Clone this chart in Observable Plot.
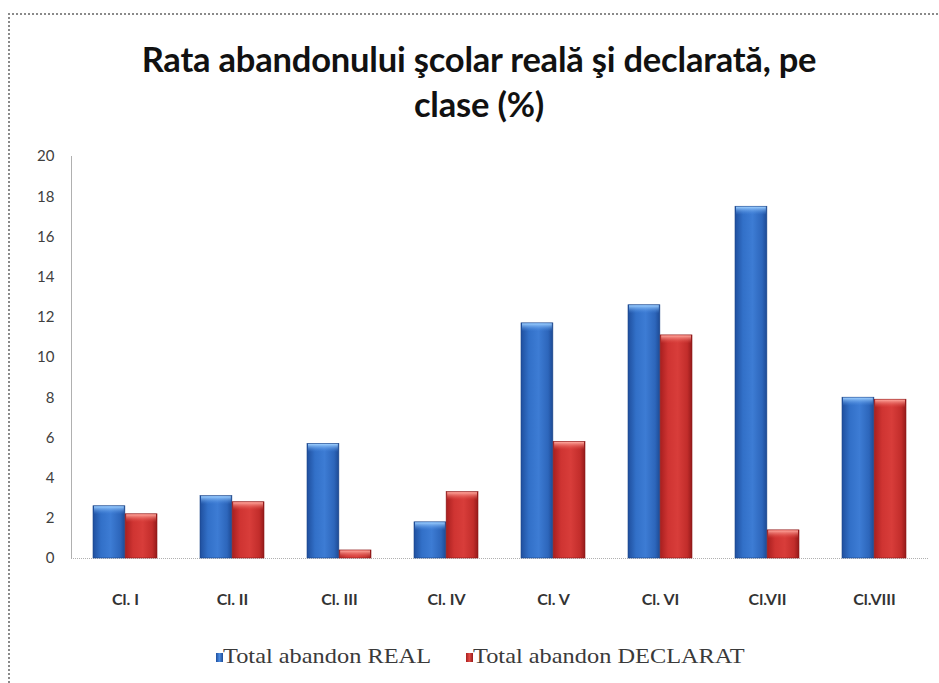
<!DOCTYPE html>
<html>
<head>
<meta charset="utf-8">
<script src="https://cdn.jsdelivr.net/npm/d3@7"></script>
<script src="https://cdn.jsdelivr.net/npm/@observablehq/plot@0.6"></script>
<style>
  html, body { margin: 0; padding: 0; background: #fff; }
  #wrap { position: relative; width: 939px; height: 683px; overflow: hidden; background: #fff; }
  #border { position: absolute; left: 8px; top: 13px; width: 1000px; height: 1000px;
            border-left: 2px dotted #8a8a8a; border-top: 2px dotted #8a8a8a; }
  #title { position: absolute; left: 0; top: 36px; width: 958px; text-align: center;
           font-family: Lato, "Open Sans", sans-serif; font-weight: bold; font-size: 34.5px;
           line-height: 45px; color: #111; letter-spacing: -0.2px; }
  #chart { position: absolute; left: 0; top: 130px; }
  #legend { position: absolute; top: 644px; left: 0; width: 939px; height: 26px;
            font-family: "Liberation Serif", "Times New Roman", serif; font-size: 21px; color: #3a3a3a; }
  .txt { position: absolute; top: 0; white-space: nowrap; transform: scaleX(1.16); transform-origin: 0 0; line-height: 25px; }
  .sw { position: absolute; top: 9px; width: 7px; height: 9px; }
</style>
</head>
<body>
<div id="wrap">
  <div id="border"></div>
  <div id="title">Rata abandonului şcolar reală şi declarată, pe<br>clase (%)</div>
  <div id="chart"></div>
  <div id="legend"></div>
</div>
<script>
const classes = ["Cl. I", "Cl. II", "Cl. III", "Cl. IV", "Cl. V", "Cl. VI", "Cl.VII", "Cl.VIII"];
const real = [2.6, 3.1, 5.7, 1.8, 11.7, 12.6, 17.5, 8.0];
const declarat = [2.2, 2.8, 0.4, 3.3, 5.8, 11.1, 1.4, 7.9];
const seriesNames = ["Total abandon REAL", "Total abandon DECLARAT"];
const yTicks = [0, 2, 4, 6, 8, 10, 12, 14, 16, 18, 20];

const rowsReal = classes.map((c, i) => ({cls: c, value: real[i]}));
const rowsDecl = classes.map((c, i) => ({cls: c, value: declarat[i]}));

const W = 939, ML = 71, MR = 11;
const padInner = 0.4, padOuter = 0.2;
const step = (W - ML - MR) / (classes.length - padInner + 2 * padOuter);
const half = step * (1 - padInner) / 2;

const plot = Plot.plot({
  width: W,
  height: 490,
  marginLeft: ML,
  marginRight: MR,
  marginTop: 26,
  marginBottom: 62,
  style: {background: "transparent", overflow: "visible"},
  x: {domain: classes, paddingInner: padInner, paddingOuter: padOuter, label: null},
  y: {domain: [0, 20], label: null},
  marks: [
    Plot.frame({anchor: "left", stroke: "#b0b0b0", strokeDasharray: "1,1"}),
    Plot.ruleY([0], {stroke: "#b0b0b0", strokeDasharray: "1,1", insetRight: -1}),
    Plot.axisY({ticks: yTicks, tickSize: 0, tickPadding: 17, fontSize: 15, label: null,
                fill: "#404040", fontFamily: "Lato, sans-serif"}),
    Plot.axisX({tickSize: 0, tickPadding: 35, fontSize: 16, fontWeight: "bold", label: null,
                fill: "#333", fontFamily: "Lato, sans-serif"}),
    Plot.barY(rowsReal, {x: "cls", y: "value", fill: "url(#gBlue)", insetRight: half,
                         stroke: "#1c4588", strokeWidth: 0.6, title: d => `${seriesNames[0]}: ${d.value}`}),
    Plot.barY(rowsDecl, {x: "cls", y: "value", fill: "url(#gRed)", insetLeft: half,
                         stroke: "#8a1818", strokeWidth: 0.6, title: d => `${seriesNames[1]}: ${d.value}`})
  ]
});

const svg = d3.select(plot);
svg.insert("defs", ":first-child").html(`
  <linearGradient id="gBlue" x1="0" x2="1" y1="0" y2="0">
    <stop offset="0%" stop-color="#1f4f9e"/>
    <stop offset="25%" stop-color="#3270c8"/>
    <stop offset="55%" stop-color="#3d7cd4"/>
    <stop offset="85%" stop-color="#2d66bb"/>
    <stop offset="100%" stop-color="#1d4a94"/>
  </linearGradient>
  <linearGradient id="gRed" x1="0" x2="1" y1="0" y2="0">
    <stop offset="0%" stop-color="#a81f1f"/>
    <stop offset="25%" stop-color="#cf3432"/>
    <stop offset="55%" stop-color="#d83d3a"/>
    <stop offset="85%" stop-color="#c22d2b"/>
    <stop offset="100%" stop-color="#951a1a"/>
  </linearGradient>
  <linearGradient id="capBlue" x1="0" x2="0" y1="0" y2="1">
    <stop offset="0%" stop-color="#9fd0ff" stop-opacity="1"/>
    <stop offset="100%" stop-color="#4a8ae0" stop-opacity="0"/>
  </linearGradient>
  <linearGradient id="capRed" x1="0" x2="0" y1="0" y2="1">
    <stop offset="0%" stop-color="#ffaaa0" stop-opacity="1"/>
    <stop offset="100%" stop-color="#e04a44" stop-opacity="0"/>
  </linearGradient>
`);

// light top caps on each bar, derived from the rendered bar rects
svg.selectAll("g[aria-label='bar']").each(function() {
  const g = d3.select(this);
  const isBlue = (g.attr("fill") || "").includes("Blue");
  const rects = g.selectAll("rect").nodes();
  for (const node of rects) {
    const x = +node.getAttribute("x"), y = +node.getAttribute("y");
    const w = +node.getAttribute("width"), h = +node.getAttribute("height");
    g.append("rect")
      .attr("x", x + 1).attr("y", y + 0.5).attr("width", Math.max(0, w - 2))
      .attr("height", Math.min(8, h)).attr("fill", isBlue ? "url(#capBlue)" : "url(#capRed)")
      .attr("stroke", "none");
  }
});

document.getElementById("chart").appendChild(plot);

const legend = document.getElementById("legend");
const legendItems = [
  {name: seriesNames[0], color: "linear-gradient(90deg,#1f4f9e,#4a8ae0,#1d4a94)", sq: 216, tx: 223},
  {name: seriesNames[1], color: "linear-gradient(90deg,#a81f1f,#e04a44,#951a1a)", sq: 466, tx: 473}
];
for (const it of legendItems) {
  const s = document.createElement("div");
  s.className = "sw";
  s.style.left = it.sq + "px";
  s.style.background = it.color;
  legend.appendChild(s);
  const t = document.createElement("div");
  t.className = "txt";
  t.style.left = it.tx + "px";
  t.textContent = it.name;
  legend.appendChild(t);
}
</script>
</body>
</html>
